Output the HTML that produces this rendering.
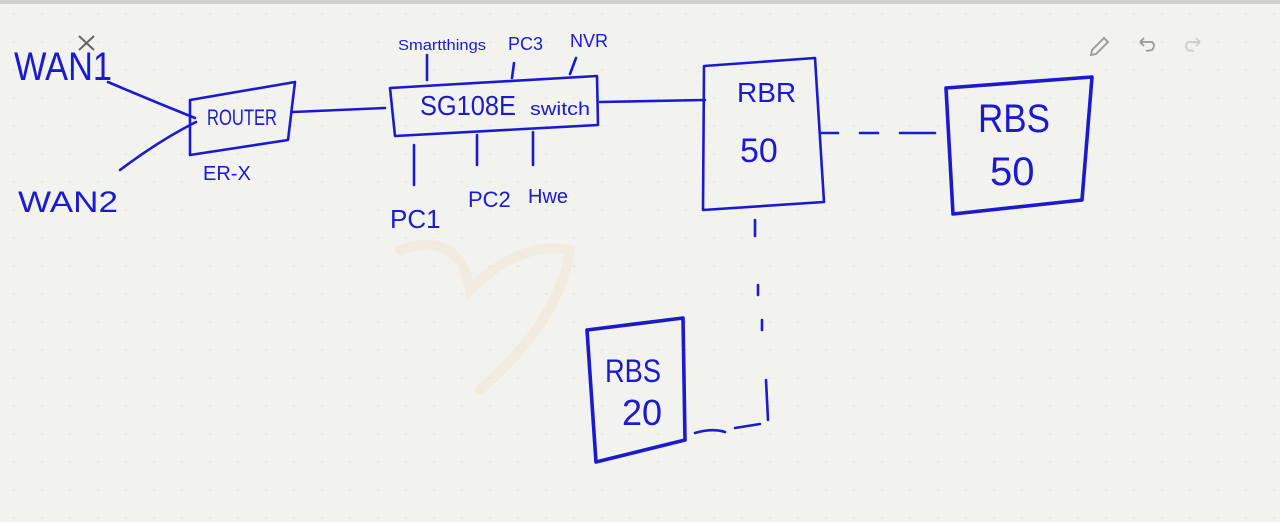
<!DOCTYPE html>
<html><head><style>
html,body{margin:0;padding:0}
body{width:1280px;height:522px;background:#f2f2ee;position:relative;overflow:hidden;font-family:"Liberation Sans",sans-serif}
.top{position:absolute;left:0;top:0;width:1280px;height:4px;background:#cfcfcb}
svg{position:absolute;left:0;top:0}
text{fill:#1a1ad0;font-family:"Liberation Sans",sans-serif}
</style></head><body>
<div class="top"></div>
<svg width="1280" height="522" viewBox="0 0 1280 522">
<defs><pattern id="d" width="28" height="28" patternUnits="userSpaceOnUse"><circle cx="14" cy="14" r="1" fill="#e2e2de"/></pattern></defs>
<rect width="1280" height="522" fill="url(#d)"/>
<g fill="none" stroke="#f3dcc0" stroke-width="10" opacity="0.3" stroke-linecap="round">
<path d="M400 250 Q460 230 470 290 Q520 240 570 250 Q560 320 480 390"/>
</g>
<g fill="none" stroke="#1a1ad0" stroke-width="2.6" stroke-linecap="round" stroke-linejoin="round">
<path d="M108 82 Q150 100 195 118"/>
<path d="M120 170 Q160 140 196 122"/>
<path d="M190 100 L295 82 L288 140 L190 155 Z"/>
<path d="M293 112 L385 108"/>
<path d="M390 88 L597 76 L598 125 L395 136 Z"/>
<path d="M427 80 L427 55"/><path d="M512 78 L514 63"/><path d="M570 74 L576 58"/>
<path d="M414 145 L414 185"/><path d="M477 135 L477 165"/><path d="M533 132 L533 165"/>
<path d="M600 102 L705 100"/>
<path d="M704 66 L815 58 L824 202 L703 210 Z"/>
<path d="M820 133 L838 133 M860 133 L878 133 M900 133 L935 133"/>
<path d="M946 88 L1092 77 L1082 200 L953 214 Z" stroke-width="3.6"/>
<path d="M755 220 L755 236 M758 285 L758 295 M762 320 L762 330 M766 380 L768 420"/>
<path d="M695 433 Q712 428 725 432 M735 428 L760 424"/>
<path d="M587 330 L683 318 L685 440 L596 462 Z" stroke-width="3.6"/>
</g>
<g stroke="#666" stroke-width="2"><path d="M79 36 L94 50 M94 36 L79 50"/></g>
<g>
<text x="14" y="80" font-size="40" textLength="98" lengthAdjust="spacingAndGlyphs">WAN1</text>
<text x="18" y="212" font-size="30" textLength="100" lengthAdjust="spacingAndGlyphs">WAN2</text>
<text x="207" y="125" font-size="22" textLength="70" lengthAdjust="spacingAndGlyphs">ROUTER</text>
<text x="203" y="180" font-size="20">ER-X</text>
<text x="420" y="115" font-size="28" textLength="96" lengthAdjust="spacingAndGlyphs">SG108E</text>
<text x="530" y="115" font-size="18" textLength="60" lengthAdjust="spacingAndGlyphs">switch</text>
<text x="398" y="50" font-size="15" textLength="88" lengthAdjust="spacingAndGlyphs">Smartthings</text>
<text x="508" y="50" font-size="18">PC3</text>
<text x="570" y="47" font-size="18">NVR</text>
<text x="390" y="228" font-size="26">PC1</text>
<text x="468" y="207" font-size="22">PC2</text>
<text x="528" y="203" font-size="20">Hwe</text>
<text x="737" y="102" font-size="28">RBR</text>
<text x="740" y="162" font-size="34">50</text>
<text x="978" y="132" font-size="40" textLength="72" lengthAdjust="spacingAndGlyphs">RBS</text>
<text x="990" y="185" font-size="40">50</text>
<text x="605" y="382" font-size="32" textLength="56" lengthAdjust="spacingAndGlyphs">RBS</text>
<text x="622" y="425" font-size="36">20</text>
</g>
<g fill="none" stroke="#999" stroke-width="1.8">
<path d="M1092 50 L1104 38 L1108 42 L1096 54 L1091 55 Z"/>
<path d="M1140 42 L1152 42 Q1156 45 1152 50 L1146 51 M1140 42 L1144 38 M1140 42 L1144 46"/>
<path d="M1200 42 L1188 42 Q1184 45 1188 50 L1194 51 M1200 42 L1196 38 M1200 42 L1196 46" stroke="#ccc"/>
</g>
</svg>
</body></html>
